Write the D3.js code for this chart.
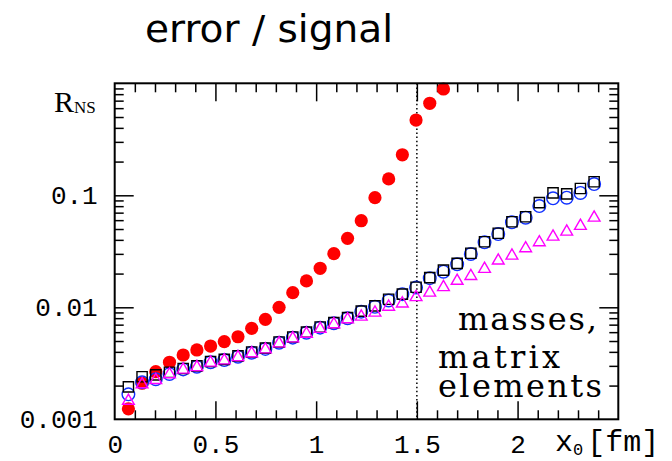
<!DOCTYPE html>
<html lang="en">
<head>
<meta charset="UTF-8">
<title>error / signal</title>
<script src="https://d3js.org/d3.v7.min.js"></script>
<style>
  body { margin: 0; background: #fff; }
  .ticks line { stroke: #000; stroke-width: 1.5; }
</style>
</head>
<body>
<svg id="chart" width="672" height="461"></svg>
<script>
// x0 [fm] of every point (lattice distances)
const x0 = [0.068, 0.136, 0.204, 0.272, 0.340, 0.408, 0.476, 0.544, 0.612, 0.680,
            0.748, 0.816, 0.884, 0.952, 1.020, 1.088, 1.156, 1.224, 1.292, 1.360,
            1.428, 1.496, 1.564, 1.632, 1.700, 1.768, 1.836, 1.904, 1.972, 2.040,
            2.108, 2.176, 2.244, 2.312, 2.380];

// filled red circles
const redVals = [0.00124, 0.00210, 0.00266, 0.00323, 0.00375, 0.00416, 0.00451, 0.00493,
                 0.00546, 0.00649, 0.00781, 0.0100, 0.0135, 0.0172, 0.0223, 0.0301,
                 0.0413, 0.0593, 0.0952, 0.140, 0.230, 0.470, 0.663, 0.889];
// open blue circles
const circleVals = [0.00167, 0.00214, 0.00228, 0.00254, 0.00279, 0.00295, 0.00323, 0.00338,
                    0.00362, 0.00393, 0.00425, 0.00483, 0.00536, 0.00593, 0.00658, 0.00720,
                    0.00798, 0.00914, 0.0101, 0.0115, 0.0131, 0.0150, 0.0182, 0.0208,
                    0.0242, 0.0299, 0.0380, 0.0451, 0.0574, 0.0631, 0.0802, 0.0940,
                    0.0952, 0.105, 0.126];
// open black squares
const squareVals = [0.00195, 0.00240, 0.00249, 0.00263, 0.00284, 0.00300, 0.00328, 0.00343,
                    0.00368, 0.00399, 0.00432, 0.00490, 0.00543, 0.00601, 0.00667, 0.00730,
                    0.00810, 0.00925, 0.0103, 0.0118, 0.0131, 0.0151, 0.0184, 0.0215,
                    0.0247, 0.0304, 0.0385, 0.0458, 0.0581, 0.0644, 0.0859, 0.105,
                    0.103, 0.115, 0.132];
// open magenta triangles
const triangleVals = [0.00146, 0.00205, 0.00224, 0.00252, 0.00277, 0.00292, 0.00320, 0.00335,
                      0.00358, 0.00388, 0.00420, 0.00475, 0.00527, 0.00580, 0.00640, 0.00705,
                      0.00781, 0.00824, 0.00895, 0.0101, 0.0108, 0.0123, 0.0135, 0.0151,
                      0.0172, 0.0190, 0.0220, 0.0261, 0.0289, 0.0336, 0.0380, 0.0427,
                      0.0473, 0.0532, 0.0631];

const xTickVals = [0, 0.5, 1, 1.5, 2];
const xTickLabels = ["0", "0.5", "1", "1.5", "2"];
const xMajor = [0.5, 1, 1.5, 2];
const xMinor = [0.1, 0.2, 0.3, 0.4, 0.6, 0.7, 0.8, 0.9, 1.1, 1.2, 1.3, 1.4,
                1.6, 1.7, 1.8, 1.9, 2.1, 2.2, 2.3, 2.4];
const yTickVals = [0.001, 0.01, 0.1];
const yTickLabels = ["0.001", "0.01", "0.1"];
const yMajor = [0.01, 0.1];
const yMinor = [0.002, 0.003, 0.004, 0.005, 0.006, 0.007, 0.008, 0.009,
                0.02, 0.03, 0.04, 0.05, 0.06, 0.07, 0.08, 0.09,
                0.2, 0.3, 0.4, 0.5, 0.6, 0.7, 0.8, 0.9];
const cutX = 1.5;

const svg = d3.select("#chart");
const pLeft = 114.7, pRight = 618.3, pTop = 83.3, pBottom = 419.3;
const mono = "'Liberation Mono', 'DejaVu Sans Mono', monospace";
const serif = "'DejaVu Serif', serif";

const x = d3.scaleLinear().domain([0, 2.5]).range([pLeft, pRight]);
const y = d3.scaleLog().domain([0.001, 1]).range([pBottom, pTop]);

// title
svg.append("text")
    .attr("x", 145).attr("y", 42)
    .attr("font-family", "'DejaVu Sans', sans-serif")
    .attr("font-size", 37)
    .attr("textLength", 248)
    .attr("lengthAdjust", "spacingAndGlyphs")
    .text("error / signal");

// inward ticks on all four sides
function tickAxis(axis, tx, ty) {
    const g = svg.append("g").attr("class", "ticks")
        .attr("transform", `translate(${tx},${ty})`)
        .call(axis);
    g.select(".domain").remove();
    g.selectAll("text").remove();
}
tickAxis(d3.axisBottom(x).tickValues(xMajor).tickSize(-18), 0, pBottom);
tickAxis(d3.axisBottom(x).tickValues(xMinor).tickSize(-9), 0, pBottom);
tickAxis(d3.axisTop(x).tickValues(xMajor).tickSize(-18), 0, pTop);
tickAxis(d3.axisTop(x).tickValues(xMinor).tickSize(-9), 0, pTop);
tickAxis(d3.axisLeft(y).tickValues(yMajor).tickSize(-19), pLeft, 0);
tickAxis(d3.axisLeft(y).tickValues(yMinor).tickSize(-9), pLeft, 0);
tickAxis(d3.axisRight(y).tickValues(yMajor).tickSize(-19), pRight, 0);
tickAxis(d3.axisRight(y).tickValues(yMinor).tickSize(-9), pRight, 0);

// tick labels
const xLab = svg.append("g")
    .attr("transform", `translate(0,${pBottom})`)
    .call(d3.axisBottom(x).tickValues(xTickVals).tickSize(0).tickPadding(15)
        .tickFormat((d, i) => xTickLabels[i]));
xLab.select(".domain").remove();
xLab.selectAll("text").attr("font-family", mono).attr("font-size", 26).attr("fill", "#000");

const yLab = svg.append("g")
    .attr("transform", `translate(${pLeft},0)`)
    .call(d3.axisLeft(y).tickValues(yTickVals).tickSize(0).tickPadding(17)
        .tickFormat((d, i) => yTickLabels[i]));
yLab.select(".domain").remove();
yLab.selectAll("text").attr("font-family", mono).attr("font-size", 26).attr("fill", "#000");

// axis titles
const yt = svg.append("text")
    .attr("x", 54).attr("y", 112)
    .attr("font-family", "'Liberation Serif', serif")
    .attr("font-size", 30);
yt.append("tspan").text("R");
yt.append("tspan").attr("font-size", 17).attr("dy", 1).text("NS");

const xt = svg.append("text")
    .attr("x", 555).attr("y", 451)
    .attr("font-family", mono)
    .attr("font-size", 30);
xt.append("tspan").text("x");
xt.append("tspan").attr("font-size", 17).attr("dy", 4).text("0");
xt.append("tspan").attr("dy", -4).attr("dx", 4).text("[fm]");

// dotted line at x0 = 1.5 fm
svg.append("line")
    .attr("x1", x(cutX)).attr("x2", x(cutX))
    .attr("y1", pTop).attr("y2", pBottom)
    .attr("stroke", "#000").attr("stroke-width", 1.5)
    .attr("stroke-dasharray", "1.5,2.6");

// data markers
const plot = svg.append("g");
plot.selectAll("circle.red")
    .data(redVals)
    .join("circle")
    .attr("class", "red")
    .attr("cx", (d, i) => x(x0[i]))
    .attr("cy", d => y(d))
    .attr("r", 6.6)
    .attr("fill", "#ff0000");

plot.selectAll("circle.open")
    .data(circleVals)
    .join("circle")
    .attr("class", "open")
    .attr("cx", (d, i) => x(x0[i]))
    .attr("cy", d => y(d))
    .attr("r", 6.3)
    .attr("fill", "none")
    .attr("stroke", "#1030ff")
    .attr("stroke-width", 1.4);

plot.selectAll("path.square")
    .data(squareVals)
    .join("path")
    .attr("class", "square")
    .attr("d", d3.symbol(d3.symbolSquare, 105))
    .attr("transform", (d, i) => `translate(${x(x0[i])},${y(d)})`)
    .attr("fill", "none")
    .attr("stroke", "#000")
    .attr("stroke-width", 1.4);

plot.selectAll("path.tri")
    .data(triangleVals)
    .join("path")
    .attr("class", "tri")
    .attr("d", d3.symbol(d3.symbolTriangle, 60))
    .attr("transform", (d, i) => `translate(${x(x0[i])},${y(d)})`)
    .attr("fill", "none")
    .attr("stroke", "#ff00ff")
    .attr("stroke-width", 1.4);

// frame
svg.append("rect")
    .attr("x", pLeft).attr("y", pTop)
    .attr("width", pRight - pLeft).attr("height", pBottom - pTop)
    .attr("fill", "none")
    .attr("stroke", "#000")
    .attr("stroke-width", 2);

// annotation
const note = [["masses,", 458, 330, 139], ["matrix", 438, 368, 122], ["elements", 438, 396.7, 164]];
svg.append("g").selectAll("text")
    .data(note)
    .join("text")
    .attr("x", d => d[1]).attr("y", d => d[2])
    .attr("font-family", serif)
    .attr("font-size", 32)
    .attr("textLength", d => d[3])
    .attr("lengthAdjust", "spacing")
    .text(d => d[0]);
</script>
</body>
</html>
